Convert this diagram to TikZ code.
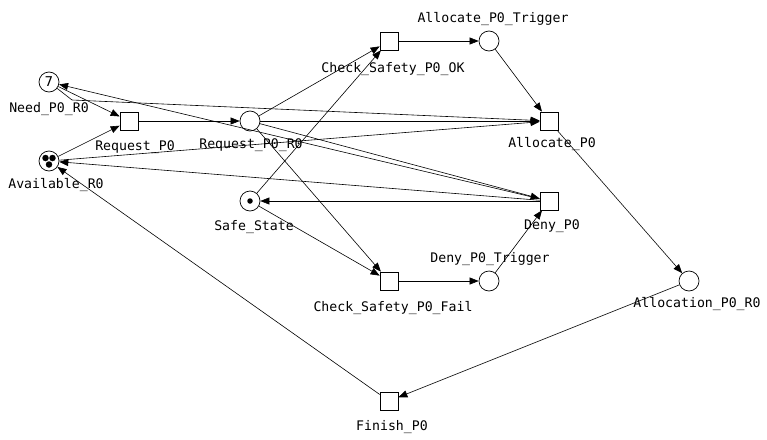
\documentclass[tikz,border=0pt]{standalone}
\usepackage{fontspec}
\setmonofont{DejaVu Sans Mono}
\newfontfamily\tokfont{DejaVu Sans}
\usetikzlibrary{arrows.meta}
\begin{document}
\begin{tikzpicture}[x=1pt,y=-1pt,
  place/.style={circle,draw,line width=0.7pt,minimum size=20pt,inner sep=0pt,fill=white},
  trans/.style={rectangle,draw,line width=0.7pt,minimum size=18pt,inner sep=0pt,fill=white},
  lbl/.style={font=\ttfamily\fontsize{13.2}{15}\selectfont,anchor=base,inner sep=0pt},
  arc/.style={line width=0.6pt,-{Triangle[length=9pt,width=7pt]}},
  tok/.style={circle,fill,inner sep=0pt,minimum size=6.5pt}]
\fill[white] (0,0) rectangle (767,439);
\useasboundingbox (0,0) rectangle (767,439);

% places
\node[place,font=\tokfont\fontsize{13.5}{13.5}\selectfont] (need) at (49,82) {7};
\node[place] (avail) at (49,161) {};
\node[place] (rr) at (250,121) {};
\node[place] (safe) at (250,201) {};
\node[place] (atrig) at (489,41) {};
\node[place] (dtrig) at (489,281) {};
\node[place] (allocation) at (689,281) {};

% transitions
\node[trans] (req) at (129,121) {};
\node[trans] (csok) at (389,41) {};
\node[trans] (alloc) at (549,121) {};
\node[trans] (deny) at (549,201) {};
\node[trans] (csf) at (389,281) {};
\node[trans] (finish) at (389,401) {};

% tokens
\node[tok] (t1) at (45.5,158) {};
\node[tok] (t2) at (52.5,158) {};
\node[tok] (t3) at (49,164.5) {};
\node[tok,minimum size=5.5pt] (t4) at (250,201) {};

\coordinate (nb) at (72,100);

% arcs
\draw[arc] (need) -- (req);
\draw[arc] (avail) -- (req);
\draw[arc] (req) -- (rr);
\draw[arc] (rr) -- (csok);
\draw[arc] (safe) -- (csok);
\draw[arc] (csok) -- (atrig);
\draw[arc] (atrig) -- (alloc);
\draw[arc] (rr) -- (csf);
\draw[arc] (safe) -- (csf);
\draw[arc] (csf) -- (dtrig);
\draw[arc] (dtrig) -- (deny);
\draw[arc] (rr) -- (alloc);
\draw[arc] (rr) -- (deny);
\draw[arc] (need) -- (nb) -- (alloc);
\draw[arc] (avail) -- (alloc);
\draw[arc] (deny) -- (need);
\draw[arc] (deny) -- (avail);
\draw[arc] (deny) -- (safe);
\draw[arc] (alloc) -- (allocation);
\draw[arc] (allocation) -- (finish);
\draw[arc] (finish) -- (avail);

% labels
\node[lbl] (l1) at (49,112) {Need\_P0\_R0};
\node[lbl] (l2) at (56,188) {Available\_R0};
\node[lbl] (l3) at (135,150) {Request\_P0};
\node[lbl] (l4) at (251,148) {Request\_P0\_R0};
\node[lbl] (l5) at (254,230) {Safe\_State};
\node[lbl] (l6) at (393,72) {Check\_Safety\_P0\_OK};
\node[lbl] (l7) at (493,22) {Allocate\_P0\_Trigger};
\node[lbl] (l8) at (552,147) {Allocate\_P0};
\node[lbl] (l9) at (552,229) {Deny\_P0};
\node[lbl] (l10) at (490,262) {Deny\_P0\_Trigger};
\node[lbl] (l11) at (393,311) {Check\_Safety\_P0\_Fail};
\node[lbl] (l12) at (697,307) {Allocation\_P0\_R0};
\node[lbl] (l13) at (392,430) {Finish\_P0};
\end{tikzpicture}
\end{document}
